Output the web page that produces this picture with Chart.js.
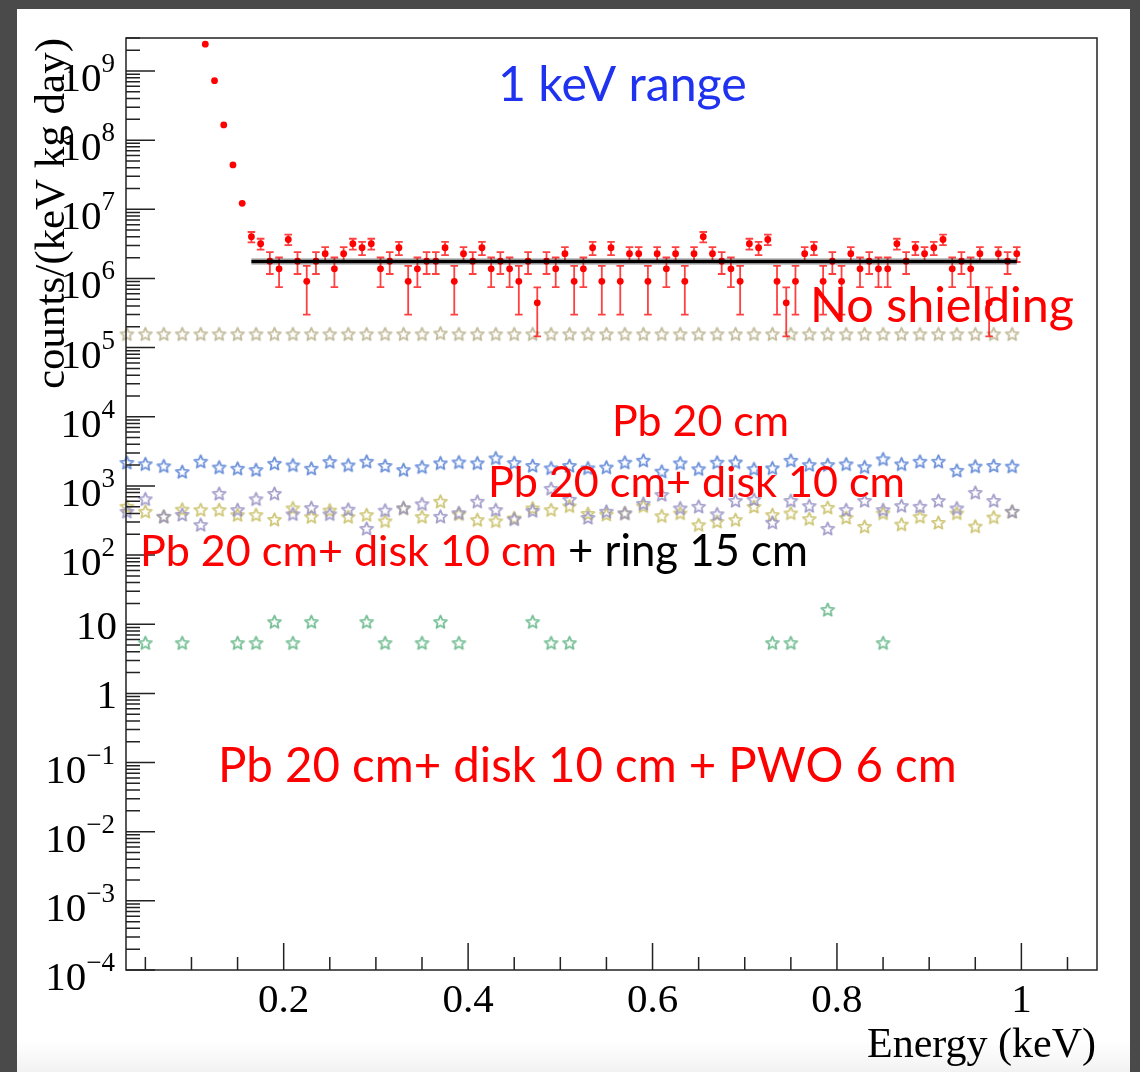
<!DOCTYPE html>
<html>
<head>
<meta charset="utf-8">
<title>Background spectrum, 1 keV range</title>
<script src="https://cdn.jsdelivr.net/npm/chart.js@4.4.1/dist/chart.umd.min.js"></script>
<style>
  html, body { margin: 0; padding: 0; background: #4a4a4a; }
  #wrap { position: relative; width: 1140px; height: 1072px; }
</style>
</head>
<body>
<div id="wrap"><canvas id="spectrum"></canvas></div>
<script>
// unshielded spectrum, 0.01 keV bins (bin centres)
const redEnergy = [
  0.115, 0.125, 0.135, 0.145, 0.155, 0.165, 0.175, 0.185, 0.195, 0.205,
  0.215, 0.225, 0.235, 0.245, 0.255, 0.265, 0.275, 0.285, 0.295, 0.305,
  0.315, 0.325, 0.335, 0.345, 0.355, 0.365, 0.375, 0.385, 0.395, 0.405,
  0.415, 0.425, 0.435, 0.445, 0.455, 0.465, 0.475, 0.485, 0.495, 0.505,
  0.515, 0.525, 0.535, 0.545, 0.555, 0.565, 0.575, 0.585, 0.595, 0.605,
  0.615, 0.625, 0.635, 0.645, 0.655, 0.665, 0.675, 0.685, 0.695, 0.705,
  0.715, 0.725, 0.735, 0.745, 0.755, 0.765, 0.775, 0.785, 0.795, 0.805,
  0.815, 0.825, 0.835, 0.845, 0.855, 0.865, 0.875, 0.885, 0.895, 0.905,
  0.915, 0.925, 0.935, 0.945, 0.955, 0.965, 0.975, 0.985, 0.995,
]
const redRate = [
  2.44e9, 7.25e8, 1.66e8, 4.38e7, 1.22e7, 4.01e6, 3.18e6, 1.78e6, 1.38e6, 3.66e6,
  1.78e6, 9.1e5, 1.78e6, 2.28e6, 1.38e6, 2.28e6, 3.18e6, 2.78e6, 3.18e6, 1.38e6,
  1.78e6, 2.78e6, 9.1e5, 1.38e6, 1.78e6, 1.78e6, 2.78e6, 9.1e5, 2.28e6, 1.78e6,
  2.78e6, 1.38e6, 1.78e6, 1.38e6, 9.1e5, 1.78e6, 4.45e5, 1.78e6, 1.38e6, 2.28e6,
  9.1e5, 1.38e6, 2.78e6, 9.1e5, 2.78e6, 9.1e5, 2.28e6, 2.28e6, 9.1e5, 2.28e6,
  1.38e6, 2.28e6, 9.1e5, 2.28e6, 4.01e6, 2.28e6, 1.78e6, 1.38e6, 9.1e5, 3.18e6,
  2.78e6, 3.66e6, 9.1e5, 4.45e5, 9.1e5, 2.28e6, 2.78e6, 9.1e5, 1.78e6, 9.1e5,
  2.28e6, 1.38e6, 1.78e6, 1.38e6, 1.38e6, 3.18e6, 1.78e6, 2.78e6, 2.28e6, 2.78e6,
  3.66e6, 1.38e6, 1.78e6, 1.38e6, 2.28e6, 4.45e5, 2.28e6, 1.78e6, 2.28e6,
]
const redError = [
  0, 0, 0, 0, 0, 6.9e5, 5.7e5, 6.2e5, 6.3e5, 6.3e5,
  6.2e5, 6.1e5, 6.2e5, 5.5e5, 6.3e5, 5.5e5, 5.7e5, 6.0e5, 5.7e5, 6.3e5,
  6.2e5, 6.0e5, 6.1e5, 6.3e5, 6.2e5, 6.2e5, 6.0e5, 6.1e5, 5.5e5, 6.2e5,
  6.0e5, 6.3e5, 6.2e5, 6.3e5, 6.1e5, 6.2e5, 3.0e5, 6.2e5, 6.3e5, 5.5e5,
  6.1e5, 6.3e5, 6.0e5, 6.1e5, 6.0e5, 6.1e5, 5.5e5, 5.5e5, 6.1e5, 5.5e5,
  6.3e5, 5.5e5, 6.1e5, 5.5e5, 6.9e5, 5.5e5, 6.2e5, 6.3e5, 6.1e5, 5.7e5,
  6.0e5, 6.3e5, 6.1e5, 3.0e5, 6.1e5, 5.5e5, 6.0e5, 6.1e5, 6.2e5, 6.1e5,
  5.5e5, 6.3e5, 6.2e5, 6.3e5, 6.3e5, 5.7e5, 6.2e5, 6.0e5, 5.5e5, 6.0e5,
  6.3e5, 6.3e5, 6.2e5, 6.3e5, 5.5e5, 3.0e5, 5.5e5, 6.2e5, 5.5e5,
]

// flat fit to the plateau
const fitEnergy = [0.165, 0.995]
const fitRate = [1.76e6, 1.76e6]

// shielded configurations, 0.02 keV bins
const starEnergy = [
  0.03, 0.05, 0.07, 0.09, 0.11, 0.13, 0.15, 0.17, 0.19, 0.21,
  0.23, 0.25, 0.27, 0.29, 0.31, 0.33, 0.35, 0.37, 0.39, 0.41,
  0.43, 0.45, 0.47, 0.49, 0.51, 0.53, 0.55, 0.57, 0.59, 0.61,
  0.63, 0.65, 0.67, 0.69, 0.71, 0.73, 0.75, 0.77, 0.79, 0.81,
  0.83, 0.85, 0.87, 0.89, 0.91, 0.93, 0.95, 0.97, 0.99,
]
const tanRate = [
  1.58e5, 1.58e5, 1.58e5, 1.58e5, 1.58e5, 1.58e5, 1.58e5, 1.58e5, 1.58e5, 1.58e5,
  1.58e5, 1.58e5, 1.58e5, 1.58e5, 1.58e5, 1.58e5, 1.58e5, 1.62e5, 1.58e5, 1.58e5,
  1.58e5, 1.58e5, 1.58e5, 1.58e5, 1.58e5, 1.58e5, 1.58e5, 1.58e5, 1.58e5, 1.58e5,
  1.58e5, 1.58e5, 1.58e5, 1.58e5, 1.58e5, 1.58e5, 1.58e5, 1.58e5, 1.58e5, 1.58e5,
  1.58e5, 1.58e5, 1.58e5, 1.58e5, 1.58e5, 1.58e5, 1.58e5, 1.58e5, 1.58e5,
]
const blueRate = [
  2190, 2090, 1950, 1610, 2270, 1870, 1800, 1720, 2120, 2010,
  1800, 2250, 2010, 2270, 1970, 1720, 1890, 2150, 2220, 2150,
  2540, 2170, 1970, 1820, 1970, 1820, 1870, 2200, 2350, 1630,
  2150, 1770, 2200, 2220, 1770, 1820, 2350, 2030, 2030, 2080,
  1890, 2460, 2080, 2270, 2270, 1680, 1930, 1970, 1930,
]
const violetRate = [
  429, 650, 363, 387, 276, 780, 454, 650, 780, 395,
  485, 395, 460, 243, 446, 481, 552, 363, 410, 600,
  454, 333, 440, 920, 640, 350, 430, 406, 560, 750,
  480, 507, 395, 615, 640, 298, 615, 518, 243, 454,
  615, 454, 518, 507, 615, 480, 805, 615, 429,
]
const oliveRate = [
  507, 429, 363, 460, 454, 454, 384, 384, 328, 481,
  360, 447, 360, 384, 312, 481, 360, 600, 395, 325,
  312, 345, 480, 454, 515, 400, 390, 406, 515, 370,
  406, 275, 307, 325, 505, 384, 406, 336, 490, 350,
  260, 406, 280, 360, 296, 406, 262, 355, 429,
]
// only the filled bins of the thickest shielding
const greenEnergy = [0.05, 0.09, 0.15, 0.17, 0.19, 0.21, 0.23, 0.29, 0.31, 0.35, 0.37, 0.39, 0.47, 0.49, 0.51, 0.73, 0.75, 0.79, 0.85]
const greenRate = [5.4, 5.4, 5.4, 5.4, 10.9, 5.4, 10.9, 10.9, 5.4, 5.4, 10.9, 5.4, 10.9, 5.4, 5.4, 5.4, 5.4, 16.3, 5.4]

// axis decoration
const xMajor = [0.2, 0.4, 0.6, 0.8, 1.0]
const xMajorLabels = ["0.2", "0.4", "0.6", "0.8", "1"]
const yDecades = [-4, -3, -2, -1, 0, 1, 2, 3, 4, 5, 6, 7, 8, 9]

const SERIF = '"Liberation Serif", "Times New Roman", serif'
const SANS = 'Lato, "Open Sans", sans-serif'

const notes = [
  { text: "1 keV range", color: "#1e32f0", x: 0.4324, y: 3.69e8, width: 249 },
  { text: "No shielding", color: "#ff0000", x: 0.7707, y: 2.35e5, width: 264 },
  { text: "Pb 20 cm", color: "#ff0000", x: 0.556, y: 5275, width: 177 },
  { text: "Pb 20 cm+ disk 10 cm", color: "#ff0000", x: 0.4215, y: 692, width: 417 },
  { text: "Pb 20 cm+ disk 10 cm", color: "#ff0000", x: 0.0441, y: 69.5, width: 417 },
  { text: "+ ring 15 cm", color: "#000000", x: 0.5083, y: 69.5, width: 240 },
  { text: "Pb 20 cm+ disk 10 cm + PWO 6 cm", color: "#ff0000", x: 0.1287, y: 0.0524, width: 739 },
]

function points(xs, ys) {
  return xs.map((x, i) => ({ x, y: ys[i] }))
}

function starMarker(color) {
  const c = document.createElement("canvas")
  c.width = 19
  c.height = 19
  const g = c.getContext("2d")
  g.strokeStyle = color
  g.lineWidth = 1.8
  g.lineJoin = "round"
  g.beginPath()
  for (let i = 0; i < 10; i++) {
    const r = i % 2 ? 3.1 : 6.8
    const a = -Math.PI / 2 + (i * Math.PI) / 5
    const px = 9.5 + r * Math.cos(a)
    const py = 10.2 + r * Math.sin(a)
    if (i) g.lineTo(px, py)
    else g.moveTo(px, py)
  }
  g.closePath()
  g.stroke()
  return c
}

function starSet(label, xs, ys, color, order) {
  return {
    label,
    data: points(xs, ys),
    pointStyle: starMarker(color),
    pointRadius: 6,
    clip: false,
    order,
  }
}

// white sheet on a dark surround, faint shade at the bottom
const pagePlugin = {
  id: "page",
  beforeDraw(chart) {
    const { ctx, width, height } = chart
    ctx.save()
    ctx.fillStyle = "#4a4a4a"
    ctx.fillRect(0, 0, width, height)
    ctx.fillStyle = "#ffffff"
    ctx.fillRect(17, 9, 1113, height - 9)
    const shade = ctx.createLinearGradient(0, 1040, 0, height)
    shade.addColorStop(0, "rgba(244,244,244,0)")
    shade.addColorStop(1, "rgba(242,242,242,1)")
    ctx.fillStyle = shade
    ctx.fillRect(17, 1040, 1113, height - 1040)
    ctx.restore()
  },
}

// vertical error bars with small caps under the red markers
const errorBarPlugin = {
  id: "errorBars",
  beforeDatasetDraw(chart, args) {
    const ds = chart.data.datasets[args.index]
    if (!ds.errors) return
    const { x, y } = chart.scales
    const ctx = chart.ctx
    ctx.save()
    ctx.strokeStyle = "rgba(255, 0, 0, 0.75)"
    ctx.lineWidth = 1.8
    ds.data.forEach((p, i) => {
      const err = ds.errors[i]
      if (!err) return
      const px = x.getPixelForValue(p.x)
      const top = y.getPixelForValue(p.y + err)
      const bottom = y.getPixelForValue(Math.max(p.y - err, y.min))
      ctx.beginPath()
      ctx.moveTo(px, top)
      ctx.lineTo(px, bottom)
      ctx.moveTo(px - 3.8, top)
      ctx.lineTo(px + 3.8, top)
      ctx.moveTo(px - 3.8, bottom)
      ctx.lineTo(px + 3.8, bottom)
      ctx.stroke()
    })
    ctx.restore()
  },
}

// frame, inward ticks and labels drawn from the chart's own scales
const axesPlugin = {
  id: "rootAxes",
  afterDatasetsDraw(chart) {
    const { ctx, chartArea: a } = chart
    const { x, y } = chart.scales
    ctx.save()
    ctx.strokeStyle = "#222"
    ctx.lineWidth = 1.5
    ctx.strokeRect(a.left, a.top, a.right - a.left, a.bottom - a.top)

    ctx.beginPath()
    for (let v = 0.05; v < x.max; v += 0.05) {
      const px = x.getPixelForValue(v)
      const major = Math.abs(v / 0.2 - Math.round(v / 0.2)) < 1e-6
      ctx.moveTo(px, a.bottom)
      ctx.lineTo(px, a.bottom - (major ? 27 : 13))
    }
    yDecades.forEach((n) => {
      for (let m = 1; m <= 9; m++) {
        const v = m * Math.pow(10, n)
        if (v > y.max) break
        const py = y.getPixelForValue(v)
        ctx.moveTo(a.left, py)
        ctx.lineTo(a.left + (m === 1 ? 29 : 14), py)
      }
    })
    ctx.stroke()

    ctx.fillStyle = "#000"
    ctx.font = `41px ${SERIF}`
    ctx.textAlign = "center"
    ctx.textBaseline = "alphabetic"
    xMajor.forEach((v, i) => {
      ctx.fillText(xMajorLabels[i], x.getPixelForValue(v), 1012)
    })

    const right = 115
    yDecades.forEach((n) => {
      const py = y.getPixelForValue(Math.pow(10, n))
      if (n === 0 || n === 1) {
        ctx.font = `41px ${SERIF}`
        ctx.textAlign = "right"
        ctx.fillText(n === 0 ? "1" : "10", right + 2, py + 15)
        return
      }
      const exp = n < 0 ? "\u2212" + -n : String(n)
      ctx.font = `27px ${SERIF}`
      const ew = ctx.measureText(exp).width
      ctx.textAlign = "left"
      ctx.fillText(exp, right - ew, py + 1)
      ctx.font = `41px ${SERIF}`
      ctx.textAlign = "right"
      ctx.fillText("10", right - ew, py + 20)
    })

    ctx.font = `42px ${SERIF}`
    ctx.textAlign = "right"
    ctx.fillText("Energy (keV)", 1096, 1057)

    ctx.font = `43px ${SERIF}`
    ctx.translate(64, a.top)
    ctx.rotate(-Math.PI / 2)
    ctx.fillText("counts/(keV kg day)", 0, 0)
    ctx.restore()
  },
}

// free text placed at data coordinates (left edge, baseline)
const notesPlugin = {
  id: "notes",
  afterDraw(chart) {
    const { ctx } = chart
    const { x, y } = chart.scales
    ctx.save()
    ctx.textAlign = "left"
    ctx.textBaseline = "alphabetic"
    notes.forEach((n) => {
      ctx.font = `100px ${SANS}`
      const size = (100 * n.width) / ctx.measureText(n.text).width
      ctx.font = `${size.toFixed(1)}px ${SANS}`
      ctx.fillStyle = n.color
      ctx.fillText(n.text, x.getPixelForValue(n.x), y.getPixelForValue(n.y))
    })
    ctx.restore()
  },
}

new Chart(document.getElementById("spectrum"), {
  type: "scatter",
  data: {
    datasets: [
      {
        label: "fit",
        data: points(fitEnergy, fitRate),
        showLine: true,
        borderColor: "#000",
        borderWidth: 3.5,
        pointRadius: 0,
        order: 0,
      },
      {
        label: "fit halo",
        data: points(fitEnergy, fitRate),
        showLine: true,
        borderColor: "rgba(0,0,0,0.22)",
        borderWidth: 7,
        pointRadius: 0,
        order: 1,
      },
      {
        label: "No shielding",
        data: points(redEnergy, redRate),
        errors: redError,
        pointRadius: 3.4,
        pointBackgroundColor: "#ff0000",
        pointBorderWidth: 0,
        order: 2,
      },
      starSet("tan", starEnergy, tanRate, "rgba(185,178,140,0.85)", 3),
      starSet("blue", starEnergy, blueRate, "rgba(95,135,215,0.9)", 4),
      starSet("olive", starEnergy, oliveRate, "rgba(200,190,100,0.85)", 6),
      starSet("violet", starEnergy, violetRate, "rgba(150,145,195,0.85)", 5),
      starSet("green", greenEnergy, greenRate, "rgba(105,185,140,0.9)", 7),
    ],
  },
  options: {
    responsive: true,
    maintainAspectRatio: false,
    animation: false,
    events: [],
    layout: { padding: { left: 126, top: 38, right: 43, bottom: 102 } },
    plugins: {
      legend: { display: false },
      tooltip: { enabled: false },
    },
    scales: {
      x: { type: "linear", min: 0.029, max: 1.082, display: false },
      y: { type: "logarithmic", min: 1e-4, max: 3e9, display: false },
    },
  },
  plugins: [pagePlugin, errorBarPlugin, axesPlugin, notesPlugin],
})
</script>
</body>
</html>
